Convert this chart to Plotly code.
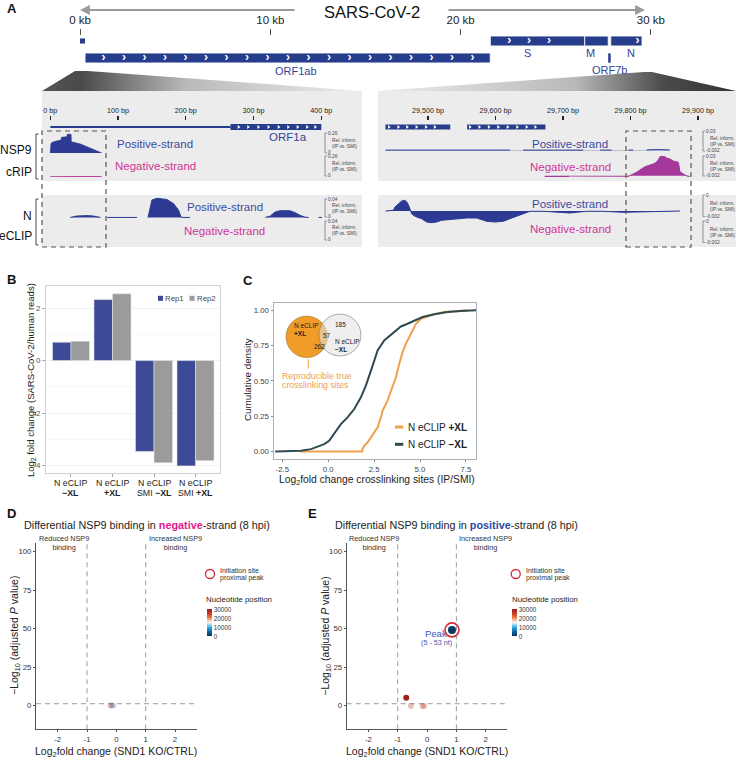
import numpy as np
import plotly.graph_objects as go

W, H = 738, 760
FONT = "Liberation Sans, Arial, Helvetica, sans-serif"

# ======================= DATA =======================
# ---- Panel A: genome overview (kb) ----
genome_tick_kb = [0, 10, 20, 30]
genome_tick_text = ["0 kb", "10 kb", "20 kb", "30 kb"]
ov_gene_start = [0.0, 0.266, 21.563, 26.523, 27.89]
ov_gene_end = [0.265, 21.555, 26.523, 27.756, 29.533]
ov_gene_row = [0, 1, 0, 0, 0]
ov_gene_thick = [0.3, 0.58, 0.58, 0.58, 0.58]
orf7b_kb = [27.756, 27.887]
ov_labels = ["ORF1ab", "S", "M", "N", "ORF7b"]
ov_label_kb = [11.35, 23.5, 26.85, 28.95, 27.8]
ov_label_row = [1.76, 0.72, 0.72, 0.72, 1.68]
orf1ab_chev_kb = [1.24, 2.31, 3.39, 4.47, 5.55, 6.62, 7.70, 8.78, 9.85, 10.93,
                  12.01, 13.08, 14.16, 15.24, 16.32, 17.39, 18.47, 19.55, 20.62]
s_chev_kb = [22.55, 23.6, 24.65]
n_chev_kb = [29.3]

# ---- Panel A: zoomed windows (bp) ----
left_ticks_bp = [0, 100, 200, 300, 400]
left_tick_text = ["0 bp", "100 bp", "200 bp", "300 bp", "400 bp"]
right_ticks_bp = [29500, 29600, 29700, 29800, 29900]
right_tick_text = ["29,500 bp", "29,600 bp", "29,700 bp", "29,800 bp", "29,900 bp"]
utr5_bp = [0, 266]
orf1a_bp = [266, 400]
orf1a_chev_bp = [278, 292, 307, 322, 337, 351, 365, 379, 391]
right_genes = ["N", "ORF10"]
right_gene_start = [29437, 29558]
right_gene_end = [29533, 29674]
right_gene_label_bp = [29487, 29611]
n_chev_bp = [29442, 29456, 29469, 29483, 29497, 29510]
orf10_chev_bp = [29562, 29576, 29590, 29604, 29618, 29632, 29646, 29659]

# NSP9 cRIP positive strand, 5' end window
nsp9_pos_left_bp = [0, 1, 5, 16, 16.6, 24.6, 25, 30.6, 31, 44.3, 54, 69, 76]
nsp9_pos_left_val = [0, 0.148, 0.173, 0.199, 0.24, 0.25, 0.286, 0.286, 0.173, 0.138, 0.097, 0.031, 0]
# NSP9 cRIP negative strand, 5' end window
nsp9_neg_left_bp = [0, 10, 30, 45, 55, 65, 76]
nsp9_neg_left_val = [0.004, 0.006, 0.008, 0.010, 0.012, 0.008, 0.003]
# N eCLIP positive strand, 5' end window
n_pos_left_bp = [29.5, 39, 54, 64, 74, None, 84, 128, None, 144.2, 150, 157.5, 172, 182, 189.4, 193,
                 195.8, 206, None, 317.4, 324.7, 332, 339.5, 354, 361.6, 369, 376.4, 381.3, None, 396, 401]
n_pos_left_val = [0, 0.003, 0.004, 0.003, 0, None, 0, 0, None, 0, 0.0378, 0.0415, 0.039, 0.030, 0.0156,
                  0.0007, 0, 0, None, 0, 0.003, 0.012, 0.0148, 0.0144, 0.0104, 0.0044, 0.0005, 0, None, 0, 0]
# NSP9 cRIP positive strand, 3' end window
nsp9_pos_right_bp = [29437, 29480, 29530, 29580, 29621.5, None, 29641, 29680, 29730, None, 29755, 29772,
                     None, 29797, 29804, None, 29824, 29840, 29858]
nsp9_pos_right_val = [0.0003, 0.0005, 0.0008, 0.0004, 0.0003, None, 0.0003, 0.0004, 0.0003, None, 0.0003,
                      0.0003, None, 0.0003, 0.0003, None, 0.0006, 0.0012, 0.0005]
# NSP9 cRIP negative strand, 3' end window
nsp9_neg_right_bp = [29673, 29709, None, 29795.8, 29801.7, 29809.1, 29814, 29821.5, 29828.9, 29836.3,
                     29841.2, 29843.7, 29848.6, 29852.6, 29858.5, 29863.5, 29870.9, 29873.3, 29880.7, 29887.2]
nsp9_neg_right_val = [-0.0012, -0.0012, None, -0.0015, 0.001, 0.0052, 0.0087, 0.0137, 0.0163, 0.0189,
                      0.0239, 0.029, 0.0305, 0.0274, 0.0254, 0.0224, 0.0204, 0.0061, 0.001, -0.002]
# N eCLIP positive strand, 3' end window (x 1e-4)
n_pos_right_bp = [29437.3, 29448.6, 29451.1, 29456.0, 29461.0, 29465.9, 29469.4, 29472.3, 29474.3, 29475.8,
                  29478.3, 29483.2, 29490.6, 29498.0, 29505.4, 29512.8, 29520.2, 29527.7, 29542.5, 29557.3,
                  29572.1, 29579.5, 29586.9, 29599.3, 29611.6, 29621.5, 29633.8, 29646.2, 29651.1, 29670.9,
                  29690.6, 29710.4, 29720.2, 29735.1, 29759.8, 29779.5, 29789.4, 29809.1, 29838.8, 29873.3]
n_pos_right_val = [0, 0.7, 4.0, 6.7, 10.0, 10.7, 8.3, 4.0, 0, -2.7, -4.3, -6.0, -7.7, -11.0, -11.7, -11.0,
                   -9.3, -8.7, -7.7, -7.0, -7.0, -8.7, -10.3, -11.0, -10.3, -7.7, -4.3, -1.0, -0.3, -0.3,
                   -1.0, -2.0, -1.3, -0.3, -0.3, -1.0, -1.3, -1.0, -0.3, 0]

# ---- Panel B ----
b_line1 = ["N eCLIP", "N eCLIP", "N eCLIP", "N eCLIP"]
b_line2 = ["<b>\u2212XL</b>", "<b>+XL</b>", "SMI <b>\u2212XL</b>", "SMI <b>+XL</b>"]
b_rep1 = [0.70, 2.32, -3.46, -4.01]
b_rep2 = [0.74, 2.54, -3.89, -3.81]

# ---- Panel C ----
c_minus_x = [-2.89, -1.49, -0.94, -0.58, -0.22, 0.05, 0.24, 0.42, 0.69, 1.05, 1.42, 1.78, 2.05, 2.42,
             2.69, 3.05, 3.60, 3.96, 4.32, 4.69, 5.14, 5.78, 6.50, 7.23, 8.05]
c_minus_y = [0, 0.005, 0.017, 0.033, 0.052, 0.076, 0.111, 0.147, 0.194, 0.242, 0.301, 0.384, 0.467,
             0.609, 0.716, 0.787, 0.846, 0.886, 0.905, 0.929, 0.953, 0.972, 0.988, 0.995, 1.0]
c_plus_x = [-1.5, 1.85, 1.87, 1.96, 2.14, 2.33, 2.51, 2.69, 2.87, 2.96, 3.23, 3.51, 3.69, 3.87, 4.05,
            4.23, 4.41, 4.60, 4.78, 5.05, 5.41, 5.78, 6.32, 6.87, 7.59]
c_plus_y = [0, 0, 0.017, 0.040, 0.064, 0.100, 0.135, 0.171, 0.242, 0.289, 0.360, 0.455, 0.526, 0.621,
            0.704, 0.763, 0.810, 0.858, 0.905, 0.941, 0.957, 0.972, 0.988, 0.995, 1.0]
venn_counts = [262, 57, 185]  # +XL only, shared, -XL only

# ---- Panels D / E ----
d_lfc = [-0.2, -0.12]
d_p = [0.1, 0.1]
d_pos = [26000, 3000]
d_alpha = [0.35, 0.35]
e_lfc = [0.85, -0.71, -0.55, -0.15, -0.1]
e_p = [49.2, 5.2, -0.2, -0.2, -0.2]
e_pos = [29, 29500, 27000, 27000, 26000]
e_alpha = [1, 1, 0.3, 0.3, 0.3]
e_initiation = [True, False, False, False, False]
peak_label = ["Peak", "(5 - 53 nt)"]
cbar_ticks = [0, 10000, 20000, 30000]

# ======================= HELPERS =======================
def fx(p): return p / W
def fy(p): return 1 - p / H
def dx(a, b): return [a / W, b / W]
def dy(top, bot): return [1 - bot / H, 1 - top / H]
def kb_of(p): return (p - 80) / 19.03
def row_of(p): return (p - 41) / 17

NAVY = "#263d8c"
SIGBLUE = "#2d3a94"
POS_TXT = "#3b4aa2"
NEG_TXT = "#cf3599"
MAGENTA = "#a5389b"

anns = []
shapes = []

def T(x, y, s, size, color="#222", xa="center", ya="middle", angle=0, xref="paper", yref="paper", align="center"):
    if xref == "paper":
        x = fx(x)
    if yref == "paper":
        y = fy(y)
    anns.append(dict(x=x, y=y, xref=xref, yref=yref, text=s, showarrow=False, align=align,
                     font=dict(size=size, color=color, family=FONT), xanchor=xa, yanchor=ya,
                     textangle=angle, borderpad=0))

def path(points, color, width, dash=None, fill=None, layer="above"):
    d = "M " + " L ".join(f"{fx(a):.5f},{fy(b):.5f}" for a, b in points)
    if fill:
        d += " Z"
    sh = dict(type="path", path=d, xref="paper", yref="paper", layer=layer,
              line=dict(color=color, width=width, dash=dash) if width > 0 else dict(width=0))
    if fill:
        sh["fillcolor"] = fill
    shapes.append(sh)

def rect(x0, y0, x1, y1, fill, line_color=None, lw=0, dash=None, layer="below"):
    shapes.append(dict(type="rect", xref="paper", yref="paper", x0=fx(x0), x1=fx(x1), y0=fy(y1), y1=fy(y0),
                       fillcolor=fill, layer=layer,
                       line=dict(color=line_color or "rgba(0,0,0,0)", width=lw, dash=dash)))

def circle(cx, cy, r, fill, line_color, lw, layer="above"):
    shapes.append(dict(type="circle", xref="paper", yref="paper", x0=fx(cx - r), x1=fx(cx + r),
                       y0=fy(cy + r), y1=fy(cy - r), fillcolor=fill, layer=layer,
                       line=dict(color=line_color, width=lw)))

fig = go.Figure()

# ======================= PANEL A =======================
wl = [(75, 71), (88, 71), (362, 91), (42, 91), (75, 71)]
wr = [(644, 72), (652, 72), (736, 91), (378, 91), (644, 72)]
fig.add_trace(go.Scatter(x=[kb_of(a) for a, b in wl], y=[row_of(b) for a, b in wl], mode="lines",
                         fill="toself", line=dict(width=0),
                         fillgradient=dict(type="horizontal",
                                           colorscale=[[0, "#555555"], [0.12, "#4a4a4a"], [0.45, "#b9b9b9"], [1, "#ececec"]]),
                         xaxis="x", yaxis="y", hoverinfo="skip"))
fig.add_trace(go.Scatter(x=[kb_of(a) for a, b in wr], y=[row_of(b) for a, b in wr], mode="lines",
                         fill="toself", line=dict(width=0),
                         fillgradient=dict(type="horizontal",
                                           colorscale=[[0, "#ececec"], [0.55, "#b9b9b9"], [0.8, "#4a4a4a"], [1, "#333333"]]),
                         xaxis="x", yaxis="y", hoverinfo="skip"))

rect(42, 91, 362, 181, "#ececec")
rect(42, 195, 362, 247, "#ececec")
rect(378, 91, 736, 181, "#ececec")
rect(378, 195, 736, 247, "#ececec")

fig.add_trace(go.Bar(orientation="h", y=ov_gene_row, base=ov_gene_start,
                     x=[e - s for s, e in zip(ov_gene_start, ov_gene_end)], width=ov_gene_thick,
                     marker=dict(color=NAVY, line=dict(color="white", width=[0, 0.8, 0.8, 0.8, 0.8])),
                     xaxis="x", yaxis="y", hoverinfo="skip"))
fig.add_trace(go.Bar(orientation="h", y=[1], base=[orf7b_kb[0]], x=[orf7b_kb[1] - orf7b_kb[0]], width=[0.55],
                     marker=dict(color=NAVY, line=dict(width=0)), xaxis="x", yaxis="y", hoverinfo="skip"))
chev_x = orf1ab_chev_kb + s_chev_kb + n_chev_kb
chev_y = [1] * len(orf1ab_chev_kb) + [0] * (len(s_chev_kb) + len(n_chev_kb))
fig.add_trace(go.Scatter(x=chev_x, y=chev_y, mode="text", text=["<b>\u203a</b>"] * len(chev_x),
                         textfont=dict(color="white", size=12, family=FONT), textposition="middle center",
                         xaxis="x", yaxis="y", hoverinfo="skip"))
for lab, k, r in zip(ov_labels, ov_label_kb, ov_label_row):
    T(k, r, lab, 11, color="#33449a", xref="x", yref="y")

T(372, 12, "SARS-CoV-2", 16.5, color="#111")
anns.append(dict(x=fx(80), y=fy(10), xref="paper", yref="paper", ax=216, ay=0, axref="pixel", ayref="pixel",
                 showarrow=True, arrowhead=2, arrowsize=1.1, arrowwidth=1.8, arrowcolor="#9a9a9a", text=""))
anns.append(dict(x=fx(645), y=fy(10), xref="paper", yref="paper", ax=-198, ay=0, axref="pixel", ayref="pixel",
                 showarrow=True, arrowhead=2, arrowsize=1.1, arrowwidth=1.8, arrowcolor="#9a9a9a", text=""))
T(6, 9, "<b>A</b>", 13, color="#111", xa="left")

fig.add_trace(go.Scatter(x=utr5_bp, y=[0, 0], mode="lines", line=dict(color=NAVY, width=2),
                         xaxis="x2", yaxis="y2", hoverinfo="skip"))
fig.add_trace(go.Bar(orientation="h", y=[0], base=[orf1a_bp[0]], x=[orf1a_bp[1] - orf1a_bp[0]], width=[0.6],
                     marker=dict(color=NAVY, line=dict(width=0)), xaxis="x2", yaxis="y2", hoverinfo="skip"))
fig.add_trace(go.Scatter(x=orf1a_chev_bp, y=[0] * len(orf1a_chev_bp), mode="markers",
                         marker=dict(symbol="triangle-right", size=3.5, color="white"),
                         xaxis="x2", yaxis="y2", hoverinfo="skip"))
T(351, -1.0, "ORF1a", 11.5, color="#33449a", xref="x2", yref="y2")
fig.add_trace(go.Bar(orientation="h", y=[0, 0], base=right_gene_start,
                     x=[e - s for s, e in zip(right_gene_start, right_gene_end)], width=[0.5, 0.5],
                     marker=dict(color=NAVY, line=dict(width=0)), xaxis="x3", yaxis="y6", hoverinfo="skip"))
rc = n_chev_bp + orf10_chev_bp
fig.add_trace(go.Scatter(x=rc, y=[0] * len(rc), mode="markers",
                         marker=dict(symbol="triangle-right", size=3.5, color="white"),
                         xaxis="x3", yaxis="y6", hoverinfo="skip"))
for lab, b in zip(right_genes, right_gene_label_bp):
    T(b, -1.1, lab, 11, color="#33449a", xref="x3", yref="y6")

def sig(x, y, xa, ya, col, lw=0.7):
    fig.add_trace(go.Scatter(x=x, y=y, mode="lines", fill="tozeroy", fillcolor=col,
                             line=dict(color=col, width=lw), connectgaps=False,
                             xaxis=xa, yaxis=ya, hoverinfo="skip"))

sig(nsp9_pos_left_bp, nsp9_pos_left_val, "x2", "y3", SIGBLUE)
sig(nsp9_neg_left_bp, nsp9_neg_left_val, "x2", "y4", "#c0379a", 1)
sig(n_pos_left_bp, n_pos_left_val, "x2", "y5", SIGBLUE, 1)
sig(nsp9_pos_right_bp, nsp9_pos_right_val, "x3", "y7", SIGBLUE, 1)
sig(nsp9_neg_right_bp, nsp9_neg_right_val, "x3", "y8", MAGENTA, 1)
sig(n_pos_right_bp, n_pos_right_val, "x3", "y9", SIGBLUE, 1)

for cx, yp, yn in [(155, 144, 166), (224.5, 207, 231), (570, 144, 167), (570, 204, 229)]:
    T(cx, yp, "Positive-strand", 11.5, color=POS_TXT)
    T(cx, yn, "Negative-strand", 11.5, color=NEG_TXT)

T(33, 150, "NSP9", 12, xa="right", color="#111")
T(33, 172, "cRIP", 12, xa="right", color="#111")
T(33, 216, "N", 12, xa="right", color="#111")
T(33, 236, "eCLIP", 12, xa="right", color="#111")
path([(38.5, 134), (36, 134), (36, 179), (38.5, 179)], "#333", 0.9)
path([(38.5, 199), (36, 199), (36, 245), (38.5, 245)], "#333", 0.9)

def scale_bar(xp, top, bot, tl, bl):
    path([(xp + 2.2, top), (xp, top), (xp, bot), (xp + 2.2, bot)], "#555", 0.6)
    T(xp + 1.5, top + 0.5, tl, 4.8, color="#444", xa="left")
    T(xp + 1.5, bot - 0.5, bl, 4.8, color="#444", xa="left")
    T(xp + 5.5, top + 0.52 * (bot - top), "Rel. inform.<br>(IP vs. SMI)", 4.8, color="#444", xa="left", align="left")

scale_bar(325, 133, 153, "0.26", "0")
scale_bar(325, 156, 176, "0.26", "0")
scale_bar(325, 199, 217, "0.04", "0")
scale_bar(325, 221, 240, "0.04", "0")
scale_bar(703, 131, 151, "0.03", "-0.002")
scale_bar(703, 156, 176, "0.03", "-0.002")
scale_bar(703, 195, 216.5, "0", "-0.002")
scale_bar(703, 221, 242.5, "0", "-0.002")

rect(42, 131, 106, 247, "rgba(0,0,0,0)", "#555", 1.2, dash="5px,4px", layer="above")
rect(626, 131, 691, 247, "rgba(0,0,0,0)", "#555", 1.2, dash="5px,4px", layer="above")

# ======================= PANEL B =======================
REP1, REP2 = "#3d4a96", "#9b9b9b"
fig.add_trace(go.Bar(x=[0, 1, 2, 3], y=b_rep1, width=0.446, offset=-0.446, marker=dict(color=REP1, line=dict(color="#e6e6e6", width=0.6)),
                     xaxis="x4", yaxis="y10", hoverinfo="skip"))
fig.add_trace(go.Bar(x=[0, 1, 2, 3], y=b_rep2, width=0.446, offset=0.0, marker=dict(color=REP2, line=dict(color="#e6e6e6", width=0.6)),
                     xaxis="x4", yaxis="y10", hoverinfo="skip"))
for i, (l1, l2) in enumerate(zip(b_line1, b_line2)):
    T(i, 483, l1, 8.8, xref="x4", color="#222")
    T(i, 492.5, l2, 8.8, xref="x4", color="#222")
T(6, 279, "<b>B</b>", 13, color="#111", xa="left")
T(31, 380, "Log<sub>2</sub> fold change (SARS-CoV-2/human reads)", 9.5, angle=-90, color="#222")
rect(158, 295.8, 163, 300.8, REP1, layer="above")
T(164, 298.3, "Rep1", 7.8, xa="left", color="#444")
rect(189.5, 295.8, 194.5, 300.8, REP2, layer="above")
T(195.5, 298.3, "Rep2", 7.8, xa="left", color="#444")

# ======================= PANEL C =======================
ORANGE, SLATE = "#f0a04b", "#2f4a52"
fig.add_trace(go.Scatter(x=c_plus_x, y=c_plus_y, mode="lines", line=dict(color=ORANGE, width=2),
                         xaxis="x5", yaxis="y11", hoverinfo="skip"))
fig.add_trace(go.Scatter(x=c_minus_x, y=c_minus_y, mode="lines", line=dict(color=SLATE, width=2),
                         xaxis="x5", yaxis="y11", hoverinfo="skip"))
T(242, 280, "<b>C</b>", 13, color="#111", xa="left")
T(247, 380, "Cumulative density", 9.8, angle=-90, color="#222")
T(377, 480.5, "Log<sub>2</sub>fold change crosslinking sites (IP/SMI)", 10.3, color="#222")
circle(306.7, 336.8, 20.7, "#ef9d28", "#9c6e1e", 0.6)
circle(340, 335, 21, "rgba(226,226,226,0.55)", "#777", 0.6)
T(292.5, 329.5, "N eCLIP<br><b>+XL</b>", 6.5, xa="left", align="left", color="#222")
T(319.3, 346.7, str(venn_counts[0]), 6.5, color="#222")
T(327.3, 335.7, str(venn_counts[1]), 6.5, color="#222")
T(340.7, 324, str(venn_counts[2]), 6.5, color="#222")
T(334, 345.5, "N eCLIP<br><b>\u2212XL</b>", 6.5, xa="left", align="left", color="#222")
path([(308.3, 359), (308.3, 368.5)], "#f0a04b", 1)
T(280.7, 376, "Reproducible true", 8.8, xa="left", color="#f0a04b")
T(280.7, 385, "crosslinking sites", 8.8, xa="left", color="#f0a04b")
path([(395, 427), (403.3, 427)], ORANGE, 3)
T(406.7, 427, "N eCLIP <b>+XL</b>", 10, xa="left", color="#222")
path([(395, 444.3), (403.3, 444.3)], SLATE, 3)
T(406.7, 444.3, "N eCLIP <b>\u2212XL</b>", 10, xa="left", color="#222")

# ======================= PANELS D / E =======================
CS = [[0, "#08375f"], [0.15, "#10609a"], [0.3, "#2aa0e0"], [0.4, "#84d2f2"], [0.5, "#f7f1ee"],
      [0.6, "#f5c09a"], [0.67, "#ea8548"], [0.8, "#cc4a2c"], [1, "#9c1c18"]]
RED = "#d42a35"

fig.add_trace(go.Scatter(x=d_lfc, y=d_p, mode="markers",
                         marker=dict(size=6, color=d_pos, coloraxis="coloraxis", opacity=d_alpha, line=dict(width=0)),
                         xaxis="x6", yaxis="y12", hoverinfo="skip"))
fig.add_trace(go.Scatter(x=e_lfc, y=e_p, mode="markers",
                         marker=dict(size=[8, 6, 6, 6, 6], color=e_pos, coloraxis="coloraxis2", opacity=e_alpha, line=dict(width=0)),
                         xaxis="x7", yaxis="y13", hoverinfo="skip"))
fig.add_trace(go.Scatter(x=[a for a, f in zip(e_lfc, e_initiation) if f],
                         y=[b for b, f in zip(e_p, e_initiation) if f], mode="markers",
                         marker=dict(symbol="circle-open", size=14, color=RED, line=dict(width=1.6, color=RED)),
                         xaxis="x7", yaxis="y13", hoverinfo="skip"))
T(0.29, 47.0, peak_label[0], 9.5, color="#3b55b5", xref="x7", yref="y13")
T(0.33, 41.2, peak_label[1], 7.2, color="#3b55b5", xref="x7", yref="y13")

for off, xa_, ya_, word, wcol, letter in [(0, "x6", "y12", "negative", "#e4168c", "D"),
                                          (310.7, "x7", "y13", "positive", "#2e4aa6", "E")]:
    T(6 + off * 0.969, 513, f"<b>{letter}</b>", 13, color="#111", xa="left")
    T(23.4 + off, 524.5, f"Differential NSP9 binding in <span style='color:{wcol}'><b>{word}</b></span>-strand (8 hpi)",
      10.8, xa="left", color="#222")
    for xv in [-1, 1]:
        shapes.append(dict(type="line", xref=xa_, yref=f"{ya_} domain", x0=xv, x1=xv, y0=0, y1=1,
                           line=dict(color="#9a9a9a", width=1, dash="5px,4px"), layer="below"))
    shapes.append(dict(type="line", xref=f"{xa_} domain", yref=ya_, x0=0, x1=1, y0=1.3, y1=1.3,
                       line=dict(color="#9a9a9a", width=1, dash="5px,4px"), layer="below"))
    T(-1.8, 542.5, "Reduced NSP9<br>binding", 7.3, xref=xa_, color="#333")
    T(2.0, 542.5, "Increased NSP9<br>binding", 7.3, xref=xa_, color="#333")
    T(15 + off, 636, "\u2212Log<sub>10</sub> (adjusted <i>P</i> value)", 10.5, angle=-90, color="#222")
    T(116 + off, 751.5, "Log<sub>2</sub>fold change (SND1 KO/CTRL)", 10.5, color="#222")
    lo = off * 0.984
    circle(210 + lo, 574, 4.5, "rgba(0,0,0,0)", RED, 1.3)
    T(219 + lo, 570.2, "Initiation site", 7, xa="left", color="#333")
    T(219 + lo, 577.8, "proximal peak", 7, xa="left", color="#333")
    T(205 + lo, 599.5, "Nucleotide position", 7.8, xa="left", color="#222")

# ======================= LAYOUT =======================
def cbar(xp):
    return dict(x=fx(xp), xanchor="left", y=fy(609.3), yanchor="top", len=27.4, lenmode="pixels",
                thickness=5, thicknessmode="pixels", tickvals=cbar_ticks, ticktext=[str(v) for v in cbar_ticks],
                tickfont=dict(size=6.3, color="#333", family=FONT), ticks="", outlinewidth=0,
                xpad=0, ypad=0, title=dict(text=""))

hidden = dict(visible=False, fixedrange=True)
track_tick = dict(ticks="outside", ticklen=4, tickwidth=1.2, tickcolor="#222", side="top", anchor="free",
                  position=fy(120), showgrid=False, zeroline=False, showline=False,
                  tickfont=dict(size=7.2, color="#222", family=FONT))
frame_b = dict(showline=True, mirror=True, linecolor="#d0d0d0", linewidth=1, zeroline=False)
frame_c = dict(showline=True, mirror=True, linecolor="#a9b2b8", linewidth=1, zeroline=False, showgrid=False,
               ticks="outside", ticklen=2, tickcolor="#888", tickfont=dict(size=7.8, color="#444", family=FONT))
volc = dict(showline=True, linecolor="#555", linewidth=1, zeroline=False, showgrid=False, ticks="outside",
            ticklen=2, tickcolor="#555", tickfont=dict(size=7.8, color="#333", family=FONT))

layout = dict(
    width=W, height=H, autosize=False, margin=dict(l=0, r=0, t=0, b=0),
    paper_bgcolor="white", plot_bgcolor="rgba(0,0,0,0)", showlegend=False, barmode="overlay",
    font=dict(family=FONT, color="#222"),
    xaxis=dict(domain=dx(30, 738), range=[kb_of(30), kb_of(738)], side="top", anchor="free", position=fy(35),
               tickvals=genome_tick_kb, ticktext=genome_tick_text, ticks="outside", ticklen=6, tickwidth=1,
               tickcolor="#555", tickfont=dict(size=11.5, color="#222", family=FONT), showgrid=False,
               zeroline=False, showline=False, fixedrange=True),
    yaxis=dict(domain=dy(28, 92), range=[row_of(92), row_of(28)], anchor="x", **hidden),
    xaxis2=dict(domain=dx(42, 362), range=[(42 - 50.3) / 0.6775, (362 - 50.3) / 0.6775],
                tickvals=left_ticks_bp, ticktext=left_tick_text, **track_tick),
    xaxis3=dict(domain=dx(378, 736), range=[29500 + (378 - 428) / 0.675, 29500 + (736 - 428) / 0.675],
                tickvals=right_ticks_bp, ticktext=right_tick_text, **track_tick),
    yaxis2=dict(domain=dy(117, 137), range=[-1, 1], anchor="x2", **hidden),
    yaxis3=dict(domain=dy(133, 153), range=[0, 0.306], anchor="x2", **hidden),
    yaxis4=dict(domain=dy(157, 177), range=[0, 0.306], anchor="x2", **hidden),
    yaxis5=dict(domain=dy(197, 218), range=[-0.0012, 0.0444], anchor="x2", **hidden),
    yaxis6=dict(domain=dy(117, 137), range=[-1, 1], anchor="x3", **hidden),
    yaxis7=dict(domain=dy(132, 151.5), range=[-0.002, 0.03], anchor="x3", **hidden),
    yaxis8=dict(domain=dy(156, 177), range=[-0.002, 0.03], anchor="x3", **hidden),
    yaxis9=dict(domain=dy(196, 226), range=[-15, 15], anchor="x3", **hidden),
    xaxis4=dict(domain=dx(46, 220), range=[-0.602, 3.59], anchor="y10", showticklabels=False, ticks="outside",
                tickvals=[0, 1, 2, 3], ticklen=3, tickcolor="#aaa", showgrid=False, **frame_b),
    yaxis10=dict(domain=dy(285.7, 473), range=[-4.28, 2.85], anchor="x4", tickvals=[-4, -2, 0, 2],
                 ticktext=["-4", "-2", "0", "2"], ticks="outside", ticklen=3, tickcolor="#aaa",
                 tickfont=dict(size=8, color="#555", family=FONT), showgrid=True, gridcolor="#f1f1f1",
                 minor=dict(tickvals=[-3, -1, 1], showgrid=True, gridcolor="#f7f7f7"), **frame_b),
    xaxis5=dict(domain=dx(273.5, 476), range=[-2.98, 8.05], anchor="y11", tickvals=[-2.5, 0, 2.5, 5, 7.5],
                ticktext=["-2.5", "0.0", "2.5", "5.0", "7.5"], **frame_c),
    yaxis11=dict(domain=dy(303.3, 459.3), range=[-0.055, 1.05], anchor="x5", tickvals=[0, 0.25, 0.5, 0.75, 1],
                 ticktext=["0.00", "0.25", "0.50", "0.75", "1.00"], **frame_c),
    xaxis6=dict(domain=dx(36, 196.7), range=[-2.74, 2.74], anchor="y12", tickvals=[-2, -1, 0, 1, 2],
                ticktext=["-2", "-1", "0", "1", "2"], **volc),
    yaxis12=dict(domain=dy(543, 729.3), range=[-15.3, 105.6], anchor="x6", tickvals=[0, 25, 50, 75, 100], **volc),
    xaxis7=dict(domain=dx(346.7, 507.4), range=[-2.74, 2.74], anchor="y13", tickvals=[-2, -1, 0, 1, 2],
                ticktext=["-2", "-1", "0", "1", "2"], **volc),
    yaxis13=dict(domain=dy(543, 729.3), range=[-15.3, 105.6], anchor="x7", tickvals=[0, 25, 50, 75, 100], **volc),
    coloraxis=dict(colorscale=CS, cmin=0, cmax=30000, colorbar=cbar(206.7)),
    coloraxis2=dict(colorscale=CS, cmin=0, cmax=30000, colorbar=cbar(206.7 + 305.7)),
    shapes=shapes, annotations=anns,
)
fig.update_layout(**layout)
fig.write_html("out.html", config={"displayModeBar": False, "staticPlot": True},
               post_script="document.body.style.margin='0px';document.body.style.padding='0px';")
